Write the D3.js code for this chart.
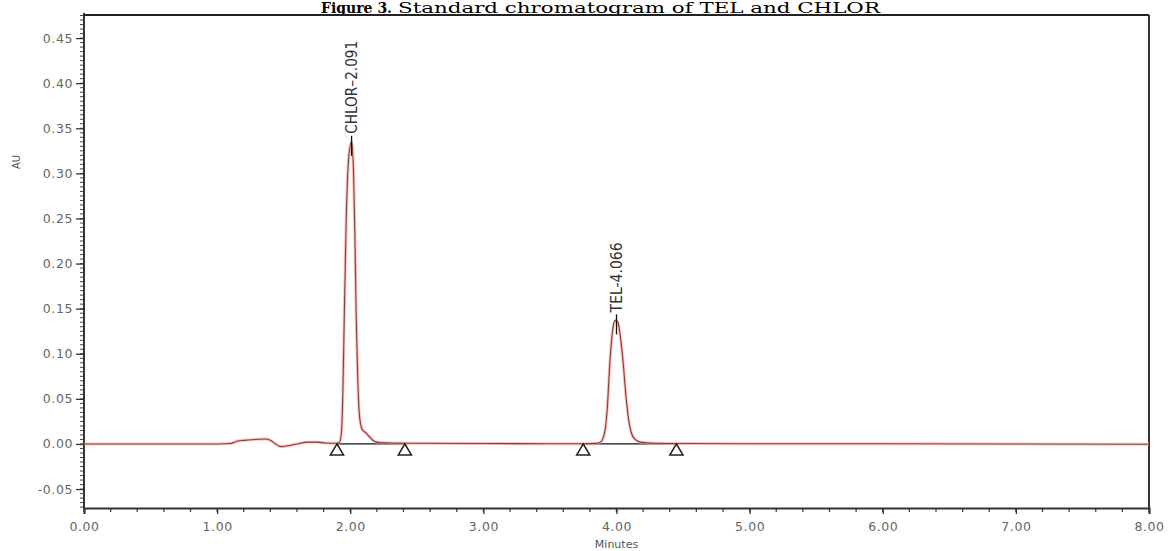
<!DOCTYPE html>
<html>
<head>
<meta charset="utf-8">
<script src="https://cdn.jsdelivr.net/npm/d3@7"></script>
<style>
  body { margin: 0; background: #fff; }
  svg { display: block; }
  .tick text { font-family: "DejaVu Sans", Verdana, sans-serif; }
</style>
</head>
<body>
<script>
// chromatogram trace (minutes, AU)
const times = [0, 0.5, 1.0, 1.10, 1.15, 1.20, 1.28, 1.36, 1.40, 1.44, 1.48, 1.53, 1.60, 1.68, 1.75, 1.82, 1.88,
  1.90, 1.92, 1.935, 1.945, 1.955, 1.97, 1.99, 2.01, 2.025, 2.035, 2.045, 2.055, 2.07, 2.09, 2.12, 2.15, 2.18, 2.22, 2.30,
  2.45, 3.0, 3.5, 3.75, 3.85, 3.88, 3.91, 3.93, 3.95, 3.97, 3.99, 4.01, 4.03, 4.05, 4.07, 4.09, 4.11, 4.14, 4.18, 4.25,
  4.45, 5.0, 6.0, 7.0, 8.0];
const au = [0, 0, 0, 0.0005, 0.003, 0.004, 0.005, 0.0055, 0.004, 0.000, -0.003, -0.002, 0.000, 0.002, 0.002, 0.001, 0.0008,
  0.0008, 0.002, 0.015, 0.060, 0.140, 0.250, 0.320, 0.335, 0.300, 0.230, 0.140, 0.080, 0.030, 0.016, 0.012, 0.007, 0.003, 0.0015, 0.001,
  0.0008, 0.0005, 0.0003, 0.0003, 0.0006, 0.002, 0.012, 0.038, 0.090, 0.125, 0.137, 0.135, 0.118, 0.090, 0.055, 0.028, 0.013, 0.005, 0.002, 0.001,
  0.0005, 0.0003, 0.0002, 0.0, -0.0003];

const peakNames = ["CHLOR\u20132.091", "TEL-4.066"];
const peakTimes = [2.01, 4.00];
const peakHeights = [0.335, 0.137];
const peakLabelLen = [93, 70];

const markerTimes = [1.90, 2.41, 3.75, 4.45];

const xTicks = [0, 1, 2, 3, 4, 5, 6, 7, 8];
const yTicks = [-0.05, 0, 0.05, 0.10, 0.15, 0.20, 0.25, 0.30, 0.35, 0.40, 0.45];

const W = 1168, H = 551;
const svg = d3.select("body").append("svg").attr("width", W).attr("height", H);

const x = d3.scaleLinear().domain([0, 8]).range([84, 1149]);
const y = d3.scaleLinear().domain([-0.071, 0.4756]).range([508, 15]);
const fmt = d => d3.format(".2f")(d).replace("\u2212", "-");

// title
svg.append("text").attr("x", 392).attr("y", 13).attr("text-anchor", "end")
  .attr("font-family", "DejaVu Serif, serif").attr("font-weight", "bold").attr("font-size", 14)
  .text("Figure 3.");
svg.append("text").attr("x", 398).attr("y", 13)
  .attr("font-family", "DejaVu Serif, serif").attr("font-size", 14)
  .attr("textLength", 482).attr("lengthAdjust", "spacingAndGlyphs")
  .text("Standard chromatogram of TEL and CHLOR");

// minor ticks
const yMinor = d3.range(-0.07, 0.476, 0.005);
svg.append("g").selectAll("line").data(yMinor).join("line")
  .attr("x1", 80).attr("x2", 84)
  .attr("y1", d => y(d)).attr("y2", d => y(d))
  .attr("stroke", "#444").attr("stroke-width", 1);
const xMinor = d3.range(0, 8.01, 0.2);
svg.append("g").selectAll("line").data(xMinor).join("line")
  .attr("x1", d => x(d)).attr("x2", d => x(d))
  .attr("y1", 508).attr("y2", 512)
  .attr("stroke", "#444").attr("stroke-width", 1.3);

// axes
const xAxis = svg.append("g").attr("transform", "translate(0,508)")
  .call(d3.axisBottom(x).tickValues(xTicks).tickFormat(fmt).tickSize(6).tickPadding(8));
const yAxis = svg.append("g").attr("transform", "translate(84,0)")
  .call(d3.axisLeft(y).tickValues(yTicks).tickFormat(fmt).tickSize(8).tickPadding(3));
[xAxis, yAxis].forEach(a => {
  a.select(".domain").attr("stroke", "#333").attr("stroke-width", 2);
  a.selectAll(".tick line").attr("stroke", "#333").attr("stroke-width", 1.3);
  a.selectAll(".tick text").attr("fill", "#666").attr("font-size", 12.5).attr("letter-spacing", 0.6);
});
yAxis.select(".domain").attr("d", "M0,13V508");

// top and right frame
svg.append("line").attr("x1", 84).attr("x2", 1149).attr("y1", 15).attr("y2", 15)
  .attr("stroke", "#222").attr("stroke-width", 2);
svg.append("line").attr("x1", 1149).attr("x2", 1149).attr("y1", 15).attr("y2", 508)
  .attr("stroke", "#333").attr("stroke-width", 2);

// axis titles
svg.append("text").attr("transform", "translate(20,162) rotate(-90)").attr("text-anchor", "middle")
  .attr("font-family", "DejaVu Sans, sans-serif").attr("font-size", 10).attr("fill", "#555").text("AU");
svg.append("text").attr("x", x(4)).attr("y", 548).attr("text-anchor", "middle")
  .attr("font-family", "DejaVu Sans, sans-serif").attr("font-size", 11).attr("fill", "#555").text("Minutes");

// integration baselines
const pairs = [[markerTimes[0], markerTimes[1]], [markerTimes[2], markerTimes[3]]];
svg.append("g").selectAll("line").data(pairs).join("line")
  .attr("x1", d => x(d[0])).attr("x2", d => x(d[1]))
  .attr("y1", y(0)).attr("y2", y(0))
  .attr("stroke", "#111").attr("stroke-width", 1.2);

// trace
const pts = times.map((t, i) => [t, au[i]]);
const line = d3.line().x(d => x(d[0])).y(d => y(d[1])).curve(d3.curveMonotoneX);
svg.append("path").datum(pts).attr("d", line).attr("fill", "none")
  .attr("stroke", "#f3a7a4").attr("stroke-width", 3).attr("stroke-opacity", 0.7);
svg.append("path").datum(pts).attr("d", line).attr("fill", "none")
  .attr("stroke", "#8e3b3b").attr("stroke-width", 1.1);

// markers
svg.append("g").selectAll("path").data(markerTimes).join("path")
  .attr("transform", d => `translate(${x(d)},${y(0)})`)
  .attr("d", "M0,0L6.5,11L-6.5,11Z")
  .attr("fill", "none").attr("stroke", "#222").attr("stroke-width", 1.6);

// peak labels
const labels = svg.append("g").selectAll("g").data(peakNames).join("g")
  .attr("transform", (d, i) => `translate(${x(peakTimes[i])},${y(peakHeights[i])})`);
labels.append("line").attr("x1", 0).attr("x2", 0).attr("y1", 14).attr("y2", -6)
  .attr("stroke", "#111").attr("stroke-width", 1.3);
labels.append("text").attr("transform", "translate(5.5,-8) rotate(-90)")
  .attr("font-family", "DejaVu Sans, sans-serif").attr("font-size", 15).attr("fill", "#333")
  .attr("textLength", (d, i) => peakLabelLen[i]).attr("lengthAdjust", "spacingAndGlyphs")
  .text(d => d);
</script>
</body>
</html>
